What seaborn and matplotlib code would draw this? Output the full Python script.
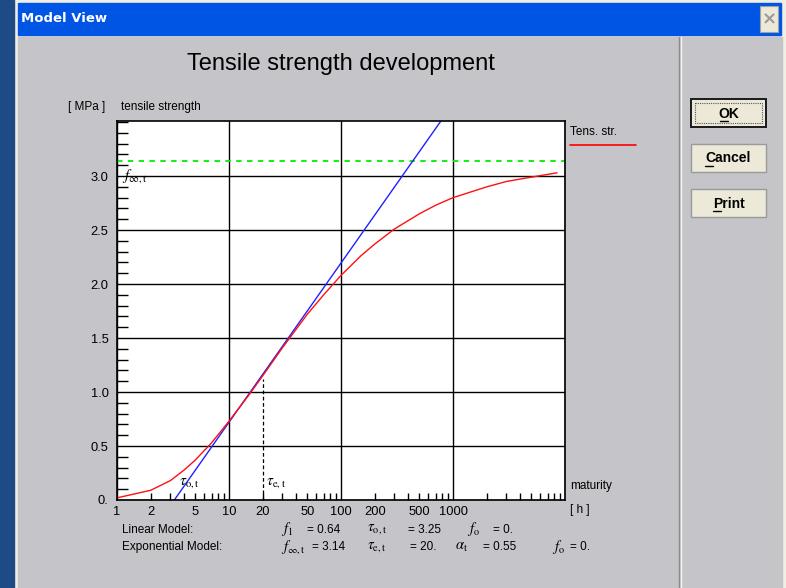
import matplotlib
matplotlib.use("Agg")
import matplotlib.pyplot as plt
import seaborn as sns
from matplotlib.patches import Rectangle
from matplotlib.ticker import FixedLocator, FuncFormatter

# ---------------- data ----------------
red_t = [1, 2, 3, 4, 5, 7, 10, 15, 20, 30, 50, 70, 100, 150, 200, 300, 500, 700,
         1000, 2000, 3000, 5000, 8500]
red_f = [0.02, 0.09, 0.18, 0.28, 0.37, 0.53, 0.73, 0.97, 1.15, 1.41, 1.72, 1.90,
         2.08, 2.26, 2.37, 2.51, 2.65, 2.73, 2.80, 2.90, 2.95, 2.99, 3.03]
blue_t = [3.25, 780]
blue_f = [0.0, 3.51]
limit_t = [1, 10000]
limit_f = [3.14, 3.14]
tau_e_t = [20, 20]
tau_e_f = [0.0, 1.12]

x_grid = [1, 10, 100, 1000, 10000]
x_labels_major = ["1", "10", "100", "1000", ""]
x_minor = [m * d for d in (1, 10, 100, 1000) for m in range(2, 10)]
x_minor_labeled = [2, 5, 20, 50, 200, 500]
y_grid = [0.0, 0.5, 1.0, 1.5, 2.0, 2.5, 3.0]
y_labels = ["0.", "0.5", "1.0", "1.5", "2.0", "2.5", "3.0"]
y_minor = [i / 10 for i in range(0, 36)]

title = "Tensile strength development"
row1 = [("Linear Model:", None), (r"$f_{\mathrm{1}}$", "= 0.64"),
        (r"$\tau_{\mathrm{o,t}}$", "= 3.25"), (r"$f_{\mathrm{o}}$", "= 0.")]
row2 = [("Exponential Model:", None), (r"$f_{\infty\mathrm{,t}}$", "= 3.14"),
        (r"$\tau_{\mathrm{e,t}}$", "= 20."), (r"$\alpha_{\mathrm{t}}$", "= 0.55"),
        (r"$f_{\mathrm{o}}$", "= 0.")]

# ---------------- figure ----------------
sns.set_style("white")
plt.rcParams["font.family"] = ["Liberation Sans", "DejaVu Sans"]
plt.rcParams["mathtext.fontset"] = "stix"
plt.rcParams["text.color"] = "black"
plt.rcParams["xtick.color"] = "black"
plt.rcParams["ytick.color"] = "black"
plt.rcParams["xtick.labelcolor"] = "black"
plt.rcParams["ytick.labelcolor"] = "black"

W, H = 786, 588
GRAY = "#c5c4c8"
fig = plt.figure(figsize=(W / 100, H / 100), dpi=100, facecolor=GRAY)

# background / dialog chrome in pixel coordinates
bg = fig.add_axes([0, 0, 1, 1])
bg.set_xlim(0, W)
bg.set_ylim(H, 0)
bg.axis("off")
bg.add_patch(Rectangle((0, 0), W, H, color="#f1eee4", zorder=0))
bg.add_patch(Rectangle((0, 0), 14, H, color="#1e4a85", zorder=1))
bg.add_patch(Rectangle((18, 37), 764, H - 37, color=GRAY, zorder=1))
bg.add_patch(Rectangle((18, 3), 763, 32, color="#0055e5", zorder=1))
bg.text(21, 19, "Model View", color="white", fontsize=9.5, fontweight="bold",
        family="DejaVu Sans", va="center", ha="left", zorder=3)
# close button
bg.add_patch(Rectangle((760, 6), 18, 26, facecolor="#ece9d8", edgecolor="#a0a0a0",
                       lw=0.8, zorder=2))
bg.text(769, 19, "×", color="#9a9a9a", fontsize=13, fontweight="bold",
        ha="center", va="center", family="DejaVu Sans", zorder=3)
# separator
bg.plot([679, 679], [37, H], color="#8c8c8c", lw=1, zorder=2)
bg.plot([681, 681], [37, H], color="#f4f4f4", lw=1, zorder=2)

# buttons
def button(y0, label, ul, default=False):
    edge = "#1a1a1a" if default else "#9a9a9a"
    bg.add_patch(Rectangle((691, y0), 75, 28, facecolor="#ece9d8", edgecolor=edge,
                           lw=1.4 if default else 1.0, zorder=2))
    if default:
        bg.add_patch(Rectangle((695, y0 + 4), 67, 20, fill=False, edgecolor="#555555",
                               lw=0.8, ls=(0, (1, 1)), zorder=3))
    bg.text(728.5, y0 + 14.5, label, fontsize=10, fontweight="bold", ha="center",
            va="center", zorder=4)
    bg.plot(ul, [y0 + 22, y0 + 22], color="black", lw=1, zorder=4)

button(99, "OK", [720, 728], default=True)
button(144, "Cancel", [705, 713])
button(189, "Print", [713, 721])

# title & labels
bg.text(341, 64, title, fontsize=17, ha="center", va="center", zorder=3)
bg.text(68, 107, "[ MPa ]", fontsize=8.5, ha="left", va="center", zorder=3)
bg.text(121, 107, "tensile strength", fontsize=8.5, ha="left", va="center", zorder=3)
bg.text(570, 486, "maturity", fontsize=8.5, ha="left", va="center", zorder=3)
bg.text(570, 510, "[ h ]", fontsize=8.5, ha="left", va="center", zorder=3)
bg.text(570, 132, "Tens. str.", fontsize=8.5, ha="left", va="center", zorder=3)
bg.plot([570, 636], [145, 145], color="red", lw=1.2, zorder=3)

# parameters rows
cols1 = [122, 281, 367, 467]
vals1 = [None, 307, 408, 493]
cols2 = [122, 281, 367, 455, 552]
vals2 = [None, 312, 410, 483, 570]
for (lab, val), cx, vx in zip(row1, cols1, vals1):
    if val is None:
        bg.text(cx, 530, lab, fontsize=8.5, ha="left", va="center", zorder=3)
    else:
        bg.text(cx, 529, lab, fontsize=10.5, ha="left", va="center", zorder=3)
        bg.text(vx, 530, val, fontsize=8.5, ha="left", va="center", zorder=3)
for (lab, val), cx, vx in zip(row2, cols2, vals2):
    if val is None:
        bg.text(cx, 547, lab, fontsize=8.5, ha="left", va="center", zorder=3)
    else:
        bg.text(cx, 547, lab, fontsize=10.5, ha="left", va="center", zorder=3)
        bg.text(vx, 547, val, fontsize=8.5, ha="left", va="center", zorder=3)

# ---------------- plot axes ----------------
L, R, T, B = 117, 565, 121, 500
ax = fig.add_axes([L / W, (H - B) / H, (R - L) / W, (B - T) / H])
ax.set_facecolor("white")
ax.set_xscale("log")

sns.lineplot(x=limit_t, y=limit_f, ax=ax, color="#00ee00", lw=1.3,
             linestyle=(0, (3, 3)), estimator=None)
sns.lineplot(x=tau_e_t, y=tau_e_f, ax=ax, color="black", lw=0.9,
             linestyle=(0, (3, 2)), estimator=None, sort=False)
sns.lineplot(x=blue_t, y=blue_f, ax=ax, color="#2020ff", lw=1.0, estimator=None)
sns.lineplot(x=red_t, y=red_f, ax=ax, color="#ff1010", lw=1.0, estimator=None)

ax.set_xlim(1, 10000)
ax.set_ylim(0, 3.51)
ax.set_xlabel("")
ax.set_ylabel("")

ax.xaxis.set_major_locator(FixedLocator(x_grid))
ax.xaxis.set_major_formatter(FuncFormatter(
    lambda v, p: x_labels_major[x_grid.index(v)] if v in x_grid else ""))
ax.xaxis.set_minor_locator(FixedLocator(x_minor))
ax.xaxis.set_minor_formatter(FuncFormatter(
    lambda v, p: f"{int(round(v))}" if int(round(v)) in x_minor_labeled else ""))
ax.yaxis.set_major_locator(FixedLocator(y_grid))
ax.yaxis.set_major_formatter(FuncFormatter(
    lambda v, p: y_labels[y_grid.index(round(v, 1))] if round(v, 1) in y_grid else ""))
ax.yaxis.set_minor_locator(FixedLocator(y_minor))

ax.tick_params(axis="x", which="both", bottom=True, top=False)
ax.tick_params(axis="y", which="both", left=True, right=False)
ax.tick_params(axis="x", which="major", length=0, pad=4, labelsize=9.3)
ax.tick_params(axis="x", which="minor", length=5, width=1, direction="in",
               pad=4, labelsize=9.3, color="black")
ax.tick_params(axis="y", which="major", length=0, pad=6, labelsize=9.3)
ax.tick_params(axis="y", which="minor", length=8, width=1, direction="in",
               color="black")
ax.grid(True, which="major", color="black", lw=1)
ax.set_axisbelow(True)
for s in ax.spines.values():
    s.set_color("black")
    s.set_linewidth(1.2)
    s.set_visible(True)

ax.text(1.1, 3.0, r"$f_{\infty\mathrm{,t}}$", fontsize=11, va="center", ha="left")
ax.text(3.6, 0.16, r"$\tau_{\mathrm{o,t}}$", fontsize=11, va="center", ha="left")
ax.text(21.5, 0.16, r"$\tau_{\mathrm{e,t}}$", fontsize=11, va="center", ha="left")

fig.savefig("out.png", dpi=100, facecolor=fig.get_facecolor())
